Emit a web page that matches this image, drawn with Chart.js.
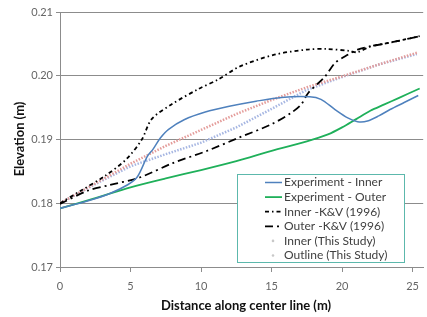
<!DOCTYPE html>
<html>
<head>
<meta charset="utf-8">
<script src="https://cdn.jsdelivr.net/npm/chart.js@4"></script>
<style>
  html, body { margin: 0; padding: 0; background: #fff; }
  #wrap { width: 427px; height: 317px; position: relative; }
</style>
</head>
<body>
<div id="wrap"><canvas id="chart" width="427" height="317"></canvas></div>
<script>
// tick labels
const xTicks = [0, 5, 10, 15, 20, 25];
const yTicks = [0.17, 0.18, 0.19, 0.20, 0.21];
const xTitle = "Distance along center line (m)";
const yTitle = "Elevation (m)";

// Experiment - Inner
const expInnerX = [0, 2, 3.5, 4.8, 5.5, 6.2, 6.6, 7.1, 7.7, 8.8, 10.3, 12, 13.9, 15.7, 17.7, 18.5, 19.5, 20.4, 21.1, 21.8, 22.6, 23.4, 24.4, 25.4];
const expInnerY = [0.1792, 0.1804, 0.1815, 0.1829, 0.1842, 0.1874, 0.1885, 0.1902, 0.1916, 0.1931, 0.1943, 0.1952, 0.1960, 0.1966, 0.1967, 0.1963, 0.1947, 0.1934, 0.1928, 0.1929, 0.1937, 0.1947, 0.1958, 0.1969];

// Experiment - Outer
const expOuterX = [0, 2.5, 5, 7.5, 10, 12.5, 15, 17.5, 19, 20, 21, 22, 23, 24, 25.5];
const expOuterY = [0.1792, 0.1808, 0.1825, 0.1839, 0.1852, 0.1866, 0.1882, 0.1897, 0.1908, 0.1919, 0.1932, 0.1945, 0.1955, 0.1965, 0.1980];

// Inner -K&V (1996)
const kvInnerX = [0, 1.5, 3.2, 4.7, 5.8, 6.5, 7.9, 9.8, 11.2, 12.8, 15.2, 17.5, 18.9, 20.5, 21.1, 22, 23.4, 25.5];
const kvInnerY = [0.1800, 0.1820, 0.1843, 0.1869, 0.1900, 0.1932, 0.1955, 0.1979, 0.1994, 0.2015, 0.2033, 0.2041, 0.2042, 0.2039, 0.2037, 0.2046, 0.2052, 0.2062];

// Outer -K&V (1996)
const kvOuterX = [0, 2, 3.4, 5.6, 8, 10.4, 12.7, 15, 16.4, 17.1, 17.6, 18.8, 19.5, 20.4, 21.1, 22, 23.4, 25.5];
const kvOuterY = [0.1799, 0.1820, 0.1828, 0.1840, 0.1863, 0.1882, 0.1903, 0.1924, 0.1942, 0.1955, 0.1973, 0.1999, 0.2020, 0.2033, 0.2041, 0.2046, 0.2052, 0.2062];

// Inner (This Study)
const studyInnerX = [0, 2.5, 5, 7.5, 10, 12.5, 15, 17.5, 20, 22.5, 25.3];
const studyInnerY = [0.1800, 0.1831, 0.1862, 0.1890, 0.1915, 0.1940, 0.1962, 0.1982, 0.1999, 0.2017, 0.2036];

// Outline (This Study)
const studyOuterX = [0, 2.5, 5, 7.5, 10, 12.5, 15, 17.5, 20, 22.5, 25.3];
const studyOuterY = [0.1800, 0.1830, 0.1858, 0.1877, 0.1895, 0.1919, 0.1948, 0.1978, 0.1998, 0.2017, 0.2034];

function pts(xs, ys) { return xs.map((x, i) => ({ x: x, y: ys[i] })); }

const GRID = "#8c8c8c";

/* axis titles + legend drawn inside the plot, like the Excel one */
const extras = {
  id: "extras",
  afterDraw(chart) {
    const ctx = chart.ctx;
    ctx.save();

    // axis titles
    ctx.fillStyle = "#111";
    ctx.font = "bold 13px Lato";
    ctx.textAlign = "center";
    ctx.textBaseline = "middle";
    ctx.fillText(xTitle, 246, 306);
    ctx.translate(20, 139);
    ctx.rotate(-Math.PI / 2);
    ctx.fillText(yTitle, 0, 0);
    ctx.setTransform(1, 0, 0, 1, 0, 0);

    // legend
    const x0 = 237, y0 = 174, w = 167, h = 88;
    ctx.fillStyle = "#fff";
    ctx.fillRect(x0, y0, w, h);
    ctx.strokeStyle = "#5cb8ac";
    ctx.lineWidth = 1;
    ctx.strokeRect(x0 + 0.5, y0 + 0.5, w, h);
    ctx.font = "12px Lato";
    ctx.textAlign = "left";
    chart.data.datasets.forEach((ds, i) => {
      const y = y0 + 8.5 + i * 14.6;
      if (ds.legendDot) {
        ctx.fillStyle = "#c8c8c8";
        ctx.beginPath();
        ctx.arc(273, y, 1.3, 0, Math.PI * 2);
        ctx.fill();
      } else {
        ctx.strokeStyle = ds.borderColor;
        ctx.lineWidth = ds.borderWidth;
        ctx.setLineDash(ds.borderDash || []);
        ctx.beginPath();
        ctx.moveTo(265, y);
        ctx.lineTo(282, y);
        ctx.stroke();
        ctx.setLineDash([]);
      }
      ctx.fillStyle = "#404040";
      ctx.fillText(ds.label, 284, y);
    });
    ctx.restore();
  }
};

new Chart(document.getElementById("chart"), {
  type: "line",
  data: {
    datasets: [
      { label: "Experiment - Inner", data: pts(expInnerX, expInnerY), borderColor: "#4f81bd", borderWidth: 1.5, tension: 0.3 },
      { label: "Experiment - Outer", data: pts(expOuterX, expOuterY), borderColor: "#1fb05a", borderWidth: 1.8, tension: 0.3 },
      { label: "Inner -K&V (1996)", data: pts(kvInnerX, kvInnerY), borderColor: "#000", borderWidth: 1.8, borderDash: [4, 3, 1.5, 3], tension: 0.3 },
      { label: "Outer -K&V (1996)", data: pts(kvOuterX, kvOuterY), borderColor: "#000", borderWidth: 1.8, borderDash: [8, 4, 2, 4], tension: 0.3 },
      { label: "Inner (This Study)", data: pts(studyInnerX, studyInnerY), borderColor: "#e49c9a", borderWidth: 2.5, borderDash: [1.5, 1.5], legendDot: true },
      { label: "Outline (This Study)", data: pts(studyOuterX, studyOuterY), borderColor: "#a6b6e2", borderWidth: 2.5, borderDash: [1.5, 1.5], legendDot: true }
    ]
  },
  options: {
    animation: false,
    responsive: false,
    elements: { point: { radius: 0 } },
    layout: { padding: { top: 12, right: 0, left: 0, bottom: 0 } },
    plugins: { legend: { display: false }, tooltip: { enabled: false } },
    scales: {
      x: {
        type: "linear",
        min: 0,
        max: 25.75,
        afterBuildTicks: s => { s.ticks = xTicks.map(v => ({ value: v })); },
        afterFit: s => { s.height = 50; },
        border: { color: GRID },
        grid: { drawOnChartArea: false, drawTicks: true, tickLength: 5, color: GRID },
        ticks: { padding: 8, color: "#666", font: { family: "Lato", size: 11 } }
      },
      y: {
        type: "linear",
        min: 0.17,
        max: 0.21,
        afterBuildTicks: s => { s.ticks = yTicks.map(v => ({ value: v })); },
        afterFit: s => { s.width = 60; },
        border: { color: GRID },
        grid: { color: GRID, tickLength: 4 },
        ticks: { padding: 3, color: "#666", font: { family: "Lato", size: 11 }, callback: v => v.toFixed(2) }
      }
    }
  },
  plugins: [extras]
});
</script>
</body>
</html>
